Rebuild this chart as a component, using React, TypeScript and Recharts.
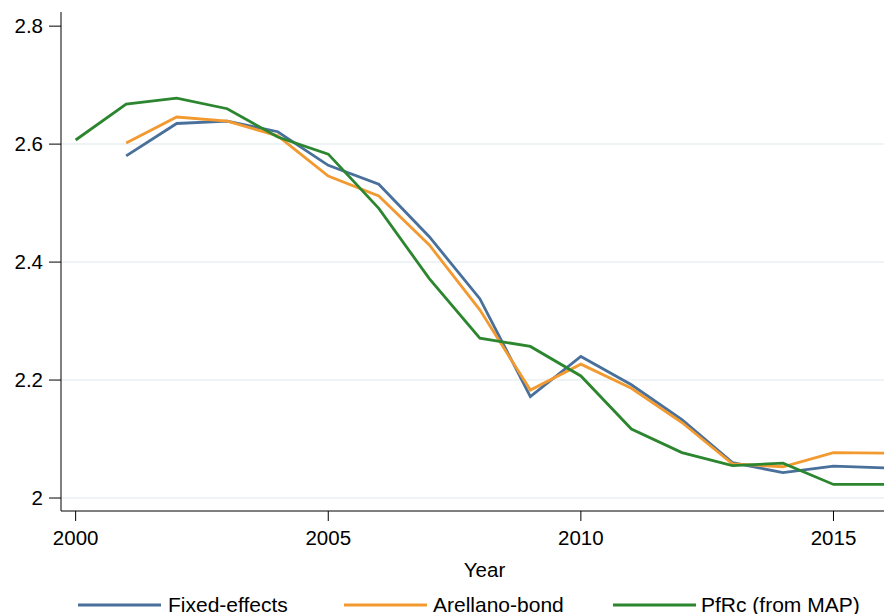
import { CartesianGrid, Legend, Line, LineChart, XAxis, YAxis } from "recharts";

const years = [2000, 2001, 2002, 2003, 2004, 2005, 2006, 2007, 2008, 2009, 2010, 2011, 2012, 2013, 2014, 2015, 2016];
const fixedEffects = [null, 2.58, 2.635, 2.639, 2.621, 2.564, 2.532, 2.443, 2.338, 2.172, 2.24, 2.192, 2.133, 2.06, 2.043, 2.054, 2.051];
const arellanoBond = [null, 2.602, 2.646, 2.639, 2.614, 2.546, 2.512, 2.429, 2.319, 2.183, 2.227, 2.186, 2.128, 2.058, 2.053, 2.077, 2.076];
const pfrc = [2.607, 2.668, 2.678, 2.66, 2.612, 2.583, 2.491, 2.372, 2.271, 2.257, 2.207, 2.117, 2.077, 2.055, 2.059, 2.023, 2.023];

const xTicks = [2000, 2005, 2010, 2015];
const yTicks = [2, 2.2, 2.4, 2.6, 2.8];
const gridValues = [2, 2.2, 2.4, 2.6];

const series = [
  { key: "fe", label: "Fixed-effects", color: "#48709a" },
  { key: "ab", label: "Arellano-bond", color: "#f29a30" },
  { key: "pf", label: "PfRc (from MAP)", color: "#2c862f" },
];

const data = years.map((year, i) => ({
  year,
  fe: fixedEffects[i],
  ab: arellanoBond[i],
  pf: pfrc[i],
}));

const FONT = "'Liberation Sans', Arial, Helvetica, sans-serif";
const tickStyle = { fill: "#000", fontSize: 20.5, fontFamily: FONT };

// legend slots: line start, text start
const legendPos = [
  { x: 78, tx: 168 },
  { x: 344, tx: 433 },
  { x: 613, tx: 701 },
];

const renderLegend = () => (
  <svg width={885} height={30} style={{ display: "block" }}>
    {series.map((s, i) => (
      <g key={s.key}>
        <line x1={legendPos[i].x} x2={legendPos[i].x + 83} y1={15} y2={15} stroke={s.color} strokeWidth={3} />
        <text x={legendPos[i].tx} y={21.5} fontSize={21} fontFamily={FONT} fill="#000">
          {s.label}
        </text>
      </g>
    ))}
  </svg>
);

export default function App() {
  return (
    <div style={{ position: "absolute", left: 0, top: 0, width: 885, height: 614, background: "#fff" }}>
      <LineChart width={885} height={614} data={data} margin={{ top: 12, right: 1, bottom: 0, left: 0 }}>
        <CartesianGrid horizontal vertical={false} horizontalValues={gridValues} stroke="#e8f0f3" strokeWidth={1.5} />
        <XAxis
          dataKey="year"
          type="number"
          domain={[1999.71, 2016]}
          allowDataOverflow
          ticks={xTicks}
          height={103}
          tickSize={10}
          tickMargin={9}
          tick={tickStyle}
          stroke="#000"
          label={{ value: "Year", position: "insideBottom", offset: 37, dx: 12, fill: "#000", fontSize: 20.5, fontFamily: FONT }}
        />
        <YAxis
          type="number"
          domain={[1.978, 2.824]}
          allowDataOverflow
          ticks={yTicks}
          width={61}
          tickSize={12}
          tickMargin={6}
          tick={tickStyle}
          stroke="#000"
          tickFormatter={(v: number) => (v === 2 ? "2" : v.toFixed(1))}
        />
        <Legend
          layout="horizontal"
          verticalAlign="middle"
          align="center"
          content={renderLegend}
          wrapperStyle={{ position: "absolute", left: 0, top: 590, width: 885, height: 30 }}
        />
        {series.map((s) => (
          <Line
            key={s.key}
            type="linear"
            dataKey={s.key}
            name={s.label}
            stroke={s.color}
            strokeWidth={2.8}
            dot={false}
            activeDot={false}
            isAnimationActive={false}
          />
        ))}
      </LineChart>
    </div>
  );
}
